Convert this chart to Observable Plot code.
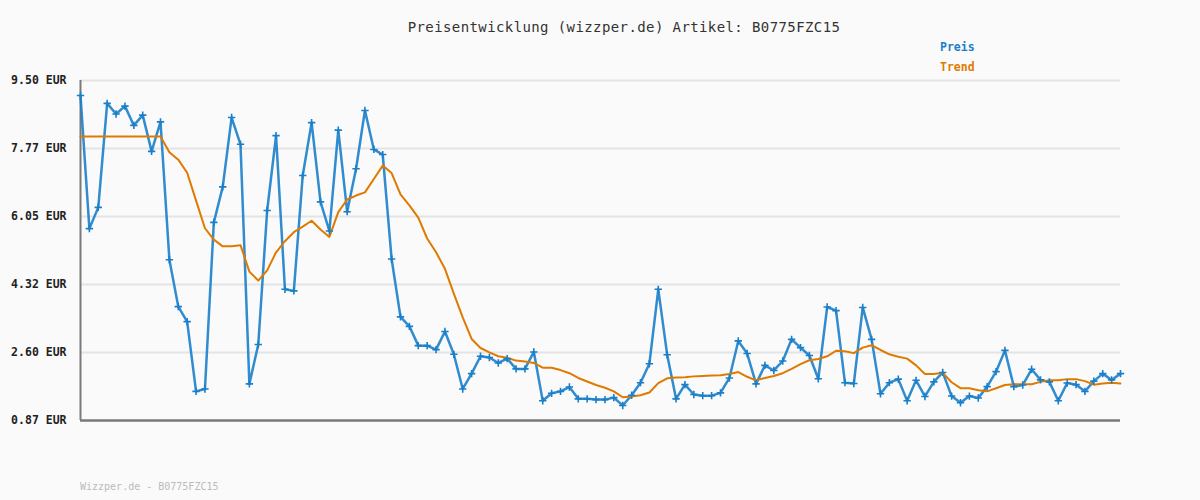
<!DOCTYPE html>
<html>
<head>
<meta charset="utf-8">
<script src="https://cdn.jsdelivr.net/npm/d3@7"></script>
<script src="https://cdn.jsdelivr.net/npm/@observablehq/plot@0.6"></script>
<style>
  body { margin: 0; background: #fafafa; }
  #wrap { position: relative; width: 1200px; height: 500px; background: #fafafa; font-family: "DejaVu Sans Mono", monospace; }
  #title { position: absolute; left: 0; width: 1248px; top: 19px; text-align: center; font-size: 14px; letter-spacing: 0.4px; color: #333; line-height: 16px; white-space: nowrap; }
  .leg { position: absolute; left: 940px; font-size: 11.5px; font-weight: bold; line-height: 14px; }
  #footer { position: absolute; left: 80px; top: 481px; font-size: 10px; color: #bbb; line-height: 12px; }
  #chart { position: absolute; left: 0; top: 0; }
</style>
</head>
<body>
<div id="wrap">
  <div id="chart"></div>
  <div id="title">Preisentwicklung (wizzper.de) Artikel: B0775FZC15</div>
  <div class="leg" style="top:40px;color:#1a7fc9">Preis</div>
  <div class="leg" style="top:60px;color:#df7a00">Trend</div>
  <div id="footer">Wizzper.de - B0775FZC15</div>
</div>
<script>
const preis = [
  9.12, 5.74, 6.28, 8.92, 8.65, 8.85, 8.36, 8.62, 7.70, 8.45,
  4.95, 3.76, 3.38, 1.61, 1.67, 5.90, 6.80, 8.56, 7.88, 1.80,
  2.80, 6.20, 8.10, 4.20, 4.16, 7.09, 8.43, 6.42, 5.68, 8.24,
  6.17, 7.26, 8.74, 7.75, 7.62, 4.97, 3.50, 3.26, 2.77, 2.77,
  2.67, 3.13, 2.55, 1.67, 2.06, 2.50, 2.47, 2.33, 2.44, 2.18,
  2.18, 2.61, 1.37, 1.56, 1.61, 1.72, 1.42, 1.42, 1.40, 1.40,
  1.45, 1.25, 1.51, 1.83, 2.31, 4.20, 2.54, 1.42, 1.78, 1.53,
  1.50, 1.50, 1.57, 1.95, 2.89, 2.57, 1.80, 2.27, 2.14, 2.38,
  2.93, 2.72, 2.52, 1.93, 3.75, 3.66, 1.83, 1.81, 3.74, 2.93,
  1.55, 1.83, 1.92, 1.37, 1.89, 1.48, 1.85, 2.09, 1.49, 1.32,
  1.49, 1.44, 1.73, 2.11, 2.65, 1.73, 1.77, 2.17, 1.90, 1.85,
  1.37, 1.82, 1.78, 1.61, 1.87, 2.06, 1.90, 2.06
];
const trend = [
  8.08, 8.08, 8.08, 8.08, 8.08, 8.08, 8.08, 8.08, 8.08, 8.08,
  7.68, 7.49, 7.16, 6.45, 5.75, 5.46, 5.29, 5.29, 5.32, 4.65,
  4.42, 4.68, 5.14, 5.42, 5.65, 5.79, 5.94, 5.72, 5.53, 6.16,
  6.48, 6.58, 6.66, 7.00, 7.34, 7.15, 6.61, 6.33, 6.02, 5.49,
  5.14, 4.72, 4.09, 3.49, 2.94, 2.71, 2.60, 2.50, 2.46, 2.39,
  2.37, 2.33, 2.21, 2.21, 2.15, 2.07, 1.95, 1.86, 1.77, 1.70,
  1.61, 1.46, 1.48, 1.51, 1.58, 1.82, 1.94, 1.96, 1.97, 1.99,
  2.00, 2.01, 2.02, 2.05, 2.10, 1.98, 1.89, 1.95, 2.00, 2.07,
  2.18, 2.30, 2.40, 2.43, 2.50, 2.64, 2.63, 2.58, 2.72, 2.78,
  2.66, 2.55, 2.49, 2.44, 2.27, 2.05, 2.05, 2.08, 1.84, 1.69,
  1.69, 1.64, 1.61, 1.69, 1.77, 1.79, 1.79, 1.79, 1.85, 1.89,
  1.89, 1.92, 1.92, 1.87, 1.78, 1.81, 1.83, 1.81
];
const yTicks = [0.87, 2.596, 4.322, 6.048, 7.774, 9.50];

const blue = "#1a7fc9";
const orange = "#df7a00";

const preisData = preis.map((v, i) => ({i, v}));
const trendData = trend.map((v, i) => ({i, v}));

const chart = Plot.plot({
  width: 1200,
  height: 500,
  marginLeft: 80,
  marginRight: 80,
  marginTop: 80,
  marginBottom: 80,
  style: { background: "#fafafa", fontFamily: "DejaVu Sans Mono, monospace" },
  x: { domain: [0, preis.length - 1], axis: null },
  y: { domain: [0.87, 9.50], axis: null },
  marks: [
    Plot.ruleY(yTicks, { stroke: "#e4e4e4", strokeWidth: 2 }),
    Plot.axisY({
      ticks: yTicks,
      tickSize: 0,
      tickPadding: 14,
      tickFormat: d => d.toFixed(2) + " EUR",
      fontWeight: "bold",
      fontSize: 11.5,
      fill: "#222",
      label: null
    }),
    Plot.ruleX([0], { y1: 0.87, y2: 9.50, stroke: "#7a7a7a", strokeWidth: 2 }),
    Plot.ruleY([0.87], { stroke: "#7a7a7a", strokeWidth: 2.5 }),
    Plot.line(preisData, { x: "i", y: "v", stroke: blue, strokeWidth: 2.5, strokeOpacity: 0.9 }),
    Plot.line(trendData, { x: "i", y: "v", stroke: orange, strokeWidth: 2 }),
    Plot.dot(preisData, { x: "i", y: "v", symbol: "plus", r: 2.5, stroke: blue, strokeWidth: 1.6 })
  ]
});
document.getElementById("chart").appendChild(chart);
</script>
</body>
</html>
